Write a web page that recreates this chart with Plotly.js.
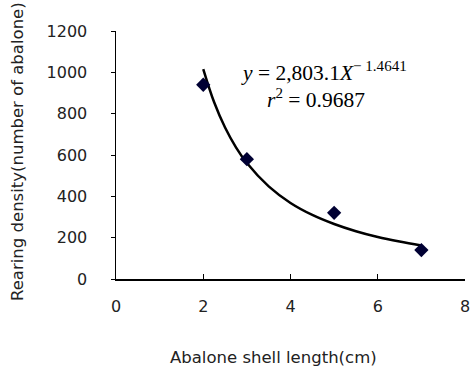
<!DOCTYPE html>
<html>
<head>
<meta charset="utf-8">
<script src="https://cdn.plot.ly/plotly-3.0.1.min.js"></script>
<style>html,body{margin:0;padding:0;background:#fff}#chart{width:471px;height:373px}</style>
</head>
<body>
<div id="chart"></div>
<script>
// Observed data (shell length cm, rearing density)
var shellLength = [2, 3, 5, 7];
var density = [940, 580, 320, 140];
// Fitted power curve (y = 2,803.1 X^-1.4641)
var fitX = [2, 2.25, 2.5, 2.75, 3, 3.5, 4, 4.5, 5, 5.5, 6, 6.5, 7];
var fitY = [1016, 855, 733, 637, 561, 448, 368, 310, 266, 231, 203, 181, 162];
var xTicks = [0, 2, 4, 6, 8];
var yTicks = [0, 200, 400, 600, 800, 1000, 1200];
var eqText = "<i>y</i> = 2,803.1<i>X</i><sup>− 1.4641</sup>";
var r2Text = "<i>r</i><sup>2</sup> = 0.9687";
var xTitle = "Abalone shell length(cm)";
var yTitle = "Rearing density(number of abalone)";

var tickFont = {family: "DejaVu Sans", size: 16, color: "#222"};
var titleFont = {family: "DejaVu Sans", size: 16.5, color: "#222"};
var eqFont = {family: "Liberation Serif", size: 21.5, color: "#000"};
var traces = [
  {x: fitX, y: fitY, mode: "lines", line: {color: "#000", width: 2.5, shape: "spline"}, hoverinfo: "skip"},
  {x: shellLength, y: density, mode: "markers", marker: {symbol: "diamond", size: 11, color: "#000033"}}
];
var layout = {
  width: 471, height: 373,
  margin: {l: 116, r: 6, t: 31, b: 94},
  paper_bgcolor: "#fff", plot_bgcolor: "#fff",
  showlegend: false,
  xaxis: {
    range: [0, 8], tickvals: xTicks, ticktext: xTicks.map(String),
    showgrid: false, zeroline: false, showline: true, linecolor: "#000", linewidth: 1.5,
    ticks: "inside", ticklen: 5, tickcolor: "#000", tickfont: tickFont, ticklabelstandoff: 12
  },
  yaxis: {
    range: [0, 1200], tickvals: yTicks, ticktext: yTicks.map(String),
    showgrid: false, zeroline: false, showline: true, linecolor: "#000", linewidth: 1.5,
    ticks: "outside", ticklen: 4, tickcolor: "#000", tickfont: tickFont, ticklabelstandoff: 20
  },
  annotations: [
    {xref: "paper", yref: "paper", x: 0.595, y: 0.9, text: eqText, showarrow: false, font: eqFont},
    {xref: "paper", yref: "paper", x: 0.573, y: 0.79, text: r2Text, showarrow: false, font: eqFont},
    {xref: "paper", yref: "paper", x: (273 - 116) / 349, y: -(357 - 279) / 248, text: xTitle,
     showarrow: false, font: titleFont, yanchor: "middle"},
    {xref: "paper", yref: "paper", x: -(116 - 17) / 349, y: (279 - 152) / 248, text: yTitle,
     showarrow: false, font: titleFont, textangle: -90, xanchor: "center", yanchor: "middle"}
  ]
};
Plotly.newPlot("chart", traces, layout, {displayModeBar: false, staticPlot: true});
</script>
</body>
</html>
